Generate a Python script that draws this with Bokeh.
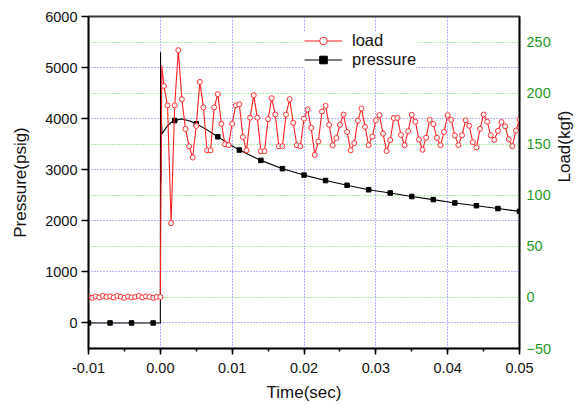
import math
from bokeh.plotting import figure
from bokeh.models import (Range1d, LinearAxis, SingleIntervalTicker, NumeralTickFormatter,
                          Grid, Legend, LegendItem, ColumnDataSource)
from bokeh.embed import file_html
from bokeh.resources import INLINE

# ---------------- data ----------------
# load (kgf), sampled every 0.0005 s from -0.01 to 0.05
load_start = -0.01
load_step = 0.0005
load_values = [
    0.5, -0.5, 1.0, 0.0, 1.5, 0.5, 1.0, 0.0, 1.5, 0.5,
    -0.5, 1.0, 0.0, 0.5, 1.5, 0.0, 1.0, 0.5, -0.5, 0.5,
    0.5,
    207, 188, 72.7, 188, 242, 194, 165, 148, 137, 168,
    211, 186, 144, 144, 186, 199, 170, 150, 149, 170,
    188, 189, 157, 144, 176, 198, 176, 143, 143, 174.5,
    195, 179, 148, 148, 179, 194, 171, 149, 148, 175,
    184, 166, 139.5, 152.6, 182, 187.5, 169, 149, 156, 169,
    179, 162, 144, 151, 173, 185, 167, 149, 157.5, 173.4,
    178.4, 160.3, 143.3, 154, 175.6, 175.8, 159, 149, 162.7, 178.8,
    172, 154.6, 144.6, 156.4, 173.8, 169.7, 156.2, 149, 162, 178.4,
    173.7, 158.5, 149.1, 158.7, 173.4, 168, 152, 146.7, 165, 179,
    172, 158.7, 154.3, 163, 171.7, 167.5, 154.8, 148, 163.3, 174,
]
load_time = [round(load_start + load_step * i, 5) for i in range(len(load_values))]
# short spike of the load trace right after t = 0 (between samples)
load_spike_time = [0.0002]
load_spike_values = [227]

# pressure (psig)
press_time = [-0.01, -0.007, -0.004, -0.001, 0.0, 0.00003, 0.00008, 0.00012, 0.00024,
              0.0005, 0.001, 0.0015, 0.002, 0.003, 0.004, 0.005, 0.0065, 0.008, 0.0095,
              0.011, 0.014, 0.017, 0.020, 0.023, 0.026, 0.029, 0.032, 0.035, 0.038,
              0.041, 0.044, 0.047, 0.050]
press_values = [0, 0, 0, 0, 0, 5300, 2780, 4030, 3700,
                3760, 3860, 3925, 3963, 3995, 3960, 3899, 3780, 3645, 3510,
                3386, 3183, 3021, 2895, 2788, 2696, 2608, 2545, 2475, 2415,
                2350, 2295, 2240, 2185]
press_marker_step = 0.003

x_ticks_interval = 0.01
left_range = (-500, 6000)
right_range = (-50, 275)

# ---------------- figure ----------------
FONT = "Liberation Sans"
BLUE = "#6a6aff"
GREEN = "#55d855"
TICKGREEN = "#1f9a1f"

p = figure(width=586, height=404, x_range=Range1d(-0.01, 0.05),
           y_range=Range1d(*left_range), output_backend="svg", toolbar_location=None,
           min_border_left=88, min_border_right=67, min_border_top=16, min_border_bottom=55)
p.extra_y_ranges = {"load": Range1d(*right_range)}
p.background_fill_color = "white"
p.border_fill_color = "white"
p.outline_line_color = "#3a3a3a"
p.outline_line_width = 2

# x axis
xa = p.xaxis[0]
xa.ticker = SingleIntervalTicker(interval=x_ticks_interval, num_minor_ticks=2)
xa.formatter = NumeralTickFormatter(format="0.00")
xa.axis_label = "Time(sec)"
# y axis (left)
ya = p.yaxis[0]
ya.ticker = SingleIntervalTicker(interval=1000, num_minor_ticks=0)
ya.axis_label = "Pressure(psig)"

for ax in (xa, ya):
    ax.axis_line_color = "black"
    ax.axis_line_width = 1.5
    ax.major_tick_line_color = "black"
    ax.major_tick_line_width = 1.5
    ax.major_tick_in = 0
    ax.major_label_text_font = FONT
    ax.major_label_text_font_size = "14.5px"
    ax.major_label_text_color = "#111111"
    ax.axis_label_text_font = FONT
    ax.axis_label_text_font_size = "17px"
    ax.axis_label_text_font_style = "normal"
    ax.axis_label_text_color = "#111111"

xa.major_tick_out = 6
xa.minor_tick_out = 3
xa.minor_tick_in = 0
xa.minor_tick_line_color = "black"
xa.minor_tick_line_width = 1.5
xa.major_label_standoff = 8
xa.axis_label_standoff = 7

ya.major_tick_out = 7
ya.minor_tick_line_color = None
ya.major_label_standoff = 4
ya.axis_label_standoff = 12

# right axis
right_ticker = SingleIntervalTicker(interval=50, num_minor_ticks=0)
ra = LinearAxis(y_range_name="load", ticker=right_ticker, axis_label="Load(kgf)")
ra.axis_line_color = "black"
ra.axis_line_width = 1.5
ra.major_tick_out = 0
ra.major_tick_in = 0
ra.minor_tick_line_color = None
ra.major_label_standoff = 7
ra.major_label_text_font = FONT
ra.major_label_text_font_size = "14.5px"
ra.major_label_text_color = TICKGREEN
ra.axis_label_text_font = FONT
ra.axis_label_text_font_size = "17px"
ra.axis_label_text_font_style = "normal"
ra.axis_label_text_color = "#111111"
ra.axis_label_standoff = 10
ra.axis_label_orientation = math.pi / 2
p.add_layout(ra, "right")

# grids
p.xgrid.grid_line_color = BLUE
p.xgrid.grid_line_dash = "1 2"
p.xgrid.grid_line_width = 1
p.ygrid.grid_line_color = BLUE
p.ygrid.grid_line_dash = "1 2"
p.ygrid.grid_line_width = 1
g2 = Grid(dimension=1, ticker=right_ticker, y_range_name="load",
          grid_line_color=GREEN, grid_line_dash="1 2", grid_line_width=1)
p.add_layout(g2)

# ---------------- data glyphs ----------------
# pressure
ps = ColumnDataSource(dict(t=press_time, v=press_values))
mk = [i for i, t in enumerate(press_time)
      if abs((t - press_time[0]) / press_marker_step - round((t - press_time[0]) / press_marker_step)) < 1e-6]
pms = ColumnDataSource(dict(t=[press_time[i] for i in mk], v=[press_values[i] for i in mk]))
pl = p.line("t", "v", source=ps, line_color="black", line_width=1.1)
pm = p.scatter("t", "v", source=pms, marker="square", size=4.5,
               fill_color="black", line_color="black")

# load
pairs = sorted(list(zip(load_time, load_values)) + list(zip(load_spike_time, load_spike_values)))
ls = ColumnDataSource(dict(t=[a for a, b in pairs], v=[b for a, b in pairs]))
lms = ColumnDataSource(dict(t=load_time, v=load_values))
ll = p.line("t", "v", source=ls, y_range_name="load", line_color="#ff2020", line_width=1.1)
lm = p.scatter("t", "v", source=lms, y_range_name="load", marker="circle", size=5,
               fill_color="white", line_color="#ff3030", line_width=1)

legend = Legend(items=[LegendItem(label="load", renderers=[ll, lm]),
                       LegendItem(label="pressure", renderers=[pl, pm])],
                location=(216, 279), orientation="vertical")
legend.padding = 5
legend.spacing = 0
legend.margin = 0
legend.glyph_width = 38
legend.glyph_height = 19
legend.label_height = 19
legend.label_standoff = 10
legend.label_text_font = FONT
legend.label_text_font_size = "16.5px"
legend.label_text_color = "#111111"
legend.border_line_color = None
legend.background_fill_color = "white"
legend.background_fill_alpha = 1.0
p.add_layout(legend)

open("out.html", "w").write(file_html(p, INLINE))
